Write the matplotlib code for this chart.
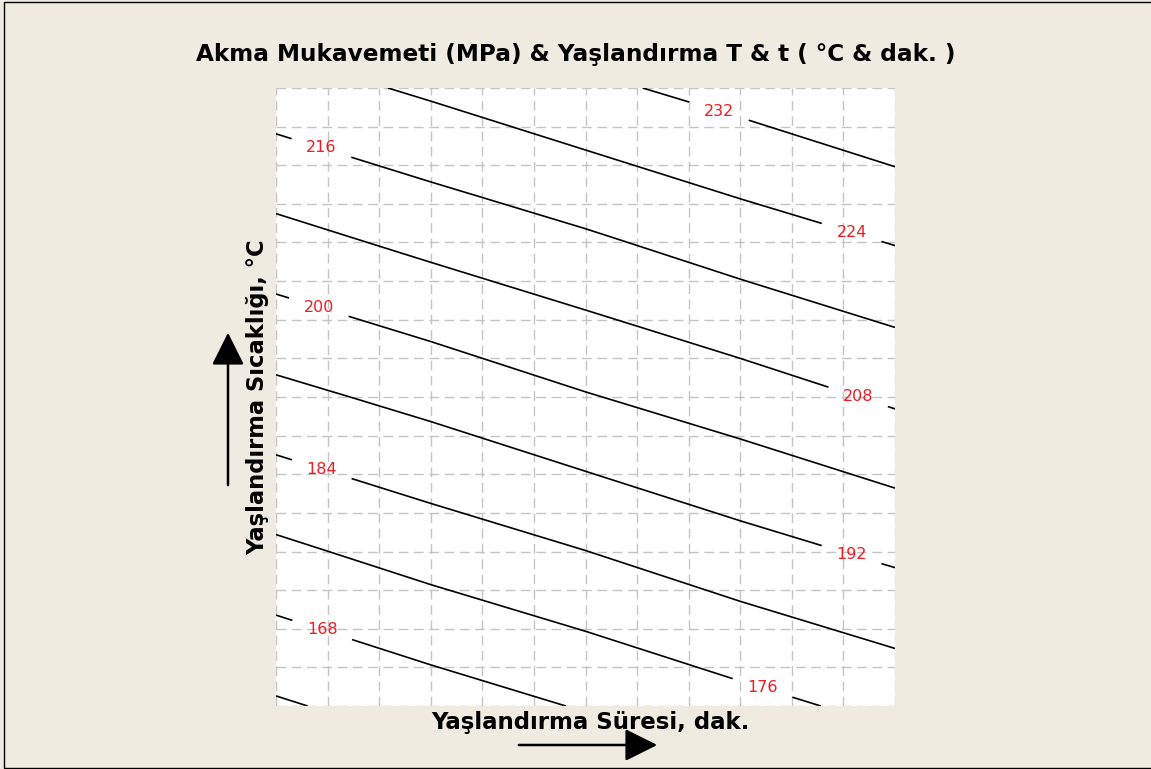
import numpy as np
import matplotlib
matplotlib.use("Agg")
import matplotlib.pyplot as plt
from matplotlib.patches import FancyArrowPatch, Rectangle

# Aging time (min) and aging temperature (degC) nodes of the response table
time_min = [0, 60, 120, 180, 240]
temp_c = [160, 180, 200, 220, 240]

# Yield strength (MPa) at each temperature row / time column
ys_T160 = [159.0, 163.9, 168.6, 173.5, 178.3]
ys_T180 = [174.3, 179.3, 183.9, 189.0, 193.6]
ys_T200 = [189.8, 194.4, 199.5, 204.1, 209.2]
ys_T220 = [205.1, 210.0, 214.6, 219.7, 224.3]
ys_T240 = [220.6, 225.3, 230.3, 234.9, 240.0]

levels = [160, 168, 176, 184, 192, 200, 208, 216, 224, 232]

title = "Akma Mukavemeti (MPa) & Yaşlandırma T & t ( °C & dak. )"
xlabel = "Yaşlandırma Süresi, dak."
ylabel = "Yaşlandırma Sıcaklığı, °C"

# where the contour labels sit (time, temperature)
label_spots = [(17.4, 232.0), (16.3, 211.3), (17.4, 190.3), (17.4, 169.3),
               (223.0, 221.1), (225.6, 199.9), (223.0, 179.4),
               (171.4, 236.6), (188.4, 162.1)]

bg = "#EFEBE1"
W, H = 1151, 769

fig = plt.figure(figsize=(W / 100, H / 100), dpi=100, facecolor=bg)
ax = fig.add_axes([276 / W, 1 - 706 / H, (895 - 276) / W, (706 - 88) / H])
ax.set_facecolor("white")

Z = np.array([ys_T160, ys_T180, ys_T200, ys_T220, ys_T240])
X, Y = np.meshgrid(time_min, temp_c)

cs = ax.contour(X, Y, Z, levels=levels, colors="black", linewidths=1.2)
labels = ax.clabel(cs, inline=True, inline_spacing=16,
                   fmt="%d", fontsize=11.5, colors="#ED1C24", manual=label_spots)
for t in labels:
    t.set_rotation(0)

ax.set_xlim(0, 240)
ax.set_ylim(160, 240)
ax.set_xticks(np.arange(0, 241, 20))
ax.set_yticks(np.arange(160, 241, 5))
ax.tick_params(length=0, labelbottom=False, labelleft=False)
ax.grid(True, color="#C4C4C4", linestyle=(0, (7, 4)), linewidth=1.0)
for s in ax.spines.values():
    s.set_visible(False)

fig.text(0.5, 1 - 55 / H, title, ha="center", va="center",
         fontsize=16.7, fontweight="bold")
fig.text(590 / W, 1 - 722 / H, xlabel, ha="center", va="center",
         fontsize=16.5, fontweight="bold")
fig.text(258 / W, 1 - 397 / H, ylabel, ha="center", va="center",
         rotation=90, fontsize=16.3, fontweight="bold")

# direction arrows (display pixels)
for tail, tip in [((228, H - 488), (228, H - 330)), ((516, H - 745), (660, H - 745))]:
    arr = FancyArrowPatch(tail, tip, transform=None,
                          arrowstyle="-|>,head_length=0.8,head_width=0.4",
                          mutation_scale=25, color="black", linewidth=1.8)
    fig.patches.append(arr)

# outer frame (open on the right edge)
fig.patches.append(Rectangle((3.5 / W, 1.5 / H), 1.05, 1 - 3.5 / H,
                             transform=fig.transFigure, fill=False,
                             edgecolor="black", linewidth=1.0))

fig.savefig("out.png", dpi=100, facecolor=bg)
